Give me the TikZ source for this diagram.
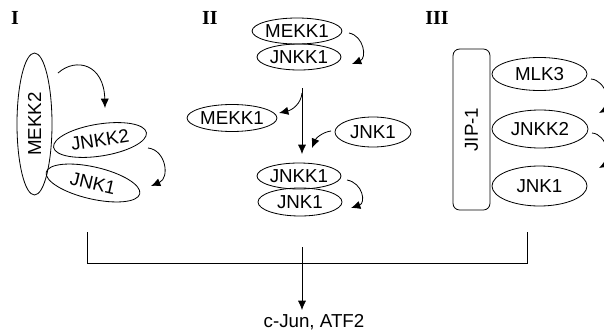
\documentclass[tikz,border=0pt]{standalone}
\usepackage{fontspec}
\setmainfont{Liberation Sans}
\newfontfamily\panelfont{Liberation Serif}
\usetikzlibrary{shapes.geometric,arrows.meta}

\begin{document}
\begin{tikzpicture}[x=0.03cm,y=-0.03cm,
    kinase/.style={ellipse,draw,line width=0.7pt,inner sep=0pt,font=\fontsize{16}{18}\selectfont},
    scaffold/.style={rectangle,draw,rounded corners=0.2cm,line width=0.7pt,inner sep=0pt,font=\fontsize{16}{18}\selectfont},
    panel/.style={font=\panelfont\bfseries\fontsize{17}{19}\selectfont},
    act/.style={line width=0.7pt,-{Latex[length=8pt,width=7pt]}}]
    \useasboundingbox (0,0) rectangle (604,332);
    \clip (0,0) rectangle (604,332);
    % panel titles
    \node[panel] (titleI) at (15,18) {I};
    \node[panel] (titleII) at (210,18) {II};
    \node[panel] (titleIII) at (437,18) {III};
    % I: MEKK2 with JNKK2 and JNK1
    \node[kinase, rotate=90, minimum width=4.26cm, minimum height=1.05cm] (mekkTwo) at (34.5,124) {MEKK2};
    \node[kinase, rotate=9, minimum width=2.82cm, minimum height=0.96cm] (jnkkTwoI) at (100,140) {JNKK2};
    \node[kinase, rotate=-13, minimum width=2.88cm, minimum height=0.96cm] (jnkI) at (93,183) {JNK1};
    \coordinate (aIs) at (58,73);
    \coordinate (aIe) at (105,108);
    \draw[act] (aIs) .. controls (76,57) and (104,64) .. (aIe);
    \coordinate (bIs) at (148,148);
    \coordinate (bIe) at (151,186);
    \draw[act] (bIs) .. controls (166,150) and (170,178) .. (bIe);
    % II: MEKK1 / JNKK1 / JNK1
    \node[kinase, minimum width=2.52cm, minimum height=0.78cm] (mekkOneA) at (297,31) {MEKK1};
    \node[kinase, minimum width=2.52cm, minimum height=0.78cm] (jnkkOneA) at (299,57) {JNKK1};
    \coordinate (aIIs) at (349,33);
    \coordinate (aIIe) at (352,64);
    \draw[act] (aIIs) .. controls (364,36) and (367,58) .. (aIIe);
    \coordinate (top) at (302,88);
    \coordinate (bot) at (302,154);
    \draw[act] (top) -- (bot);
    \node[kinase, minimum width=2.43cm, minimum height=0.81cm] (mekkOneB) at (232,118) {MEKK1};
    \coordinate (fork) at (302,93);
    \coordinate (toMekk) at (279,113);
    \draw[act] (fork) .. controls (301,104) and (292,110) .. (toMekk);
    \node[kinase, minimum width=2.28cm, minimum height=0.9cm] (jnkIIb) at (373,132) {JNK1};
    \coordinate (fromJnk) at (331,131);
    \coordinate (toLine) at (312,148);
    \draw[act] (fromJnk) .. controls (323,132) and (316,138) .. (toLine);
    \node[kinase, minimum width=2.52cm, minimum height=0.78cm] (jnkkOneB) at (299,176) {JNKK1};
    \node[kinase, minimum width=2.52cm, minimum height=0.84cm] (jnkIIc) at (300,202) {JNK1};
    \coordinate (bIIs) at (347,180);
    \coordinate (bIIe) at (351,208);
    \draw[act] (bIIs) .. controls (363,183) and (366,203) .. (bIIe);
    % III: JIP-1 scaffold
    \node[scaffold, rotate=90, minimum width=4.83cm, minimum height=1.11cm] (jip) at (471.5,129.5) {JIP-1};
    \node[kinase, minimum width=2.85cm, minimum height=0.99cm] (mlk) at (539.5,74) {MLK3};
    \node[kinase, minimum width=2.88cm, minimum height=1.14cm] (jnkkTwoIII) at (540,129) {JNKK2};
    \node[kinase, minimum width=2.85cm, minimum height=1.2cm] (jnkIII) at (539.5,186) {JNK1};
    \coordinate (aIIIs) at (591,79);
    \coordinate (aIIIe) at (599,113);
    \draw[act] (aIIIs) .. controls (606,80) and (612,106) .. (aIIIe);
    \coordinate (bIIIs) at (592,133);
    \coordinate (bIIIe) at (599,168);
    \draw[act] (bIIIs) .. controls (607,134) and (612,161) .. (bIIIe);
    % common output
    \coordinate (leftEnd) at (87,232);
    \coordinate (rightEnd) at (527,232);
    \draw[line width=0.7pt] (leftEnd) -- (87,263) -- (527,263) -- (rightEnd);
    \node[font=\fontsize{16}{18}\selectfont] (target) at (314,322) {c-Jun, ATF2};
    \coordinate (join) at (302,247);
    \draw[act] (join) -- (join |- target.north);
\end{tikzpicture}
\end{document}
